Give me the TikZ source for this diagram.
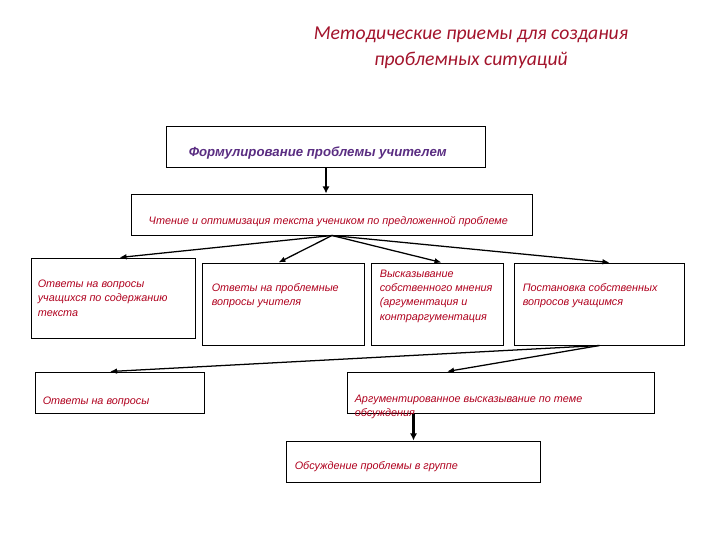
\documentclass[tikz,border=0pt]{standalone}
\usepackage{fontspec}
\setmainfont{Liberation Sans}
\newfontfamily\headfont{Carlito}
\usetikzlibrary{arrows.meta,positioning,calc}
\definecolor{tred}{HTML}{A3142C}
\definecolor{bred}{HTML}{B0001E}
\definecolor{bpurple}{HTML}{5A2D82}
\tikzset{
  >=Latex,
  box/.style={draw, line width=0.7pt, inner sep=0pt, fill=white},
  txt/.style={anchor=west, inner sep=0pt, align=left, text=bred,
    font=\itshape\fontsize{7.7}{10.2}\selectfont},
  arr/.style={-{Latex[length=5pt,width=4pt]}, line width=0.9pt},
  thickarr/.style={-{Latex[length=5pt,width=5pt]}, line width=1.8pt}
}

\begin{document}
\begin{tikzpicture}[x=0.025cm, y=-0.025cm]
  \fill[white] (0,0) rectangle (720,540);
  \useasboundingbox (0,0) rectangle (720,540);

  % title
  \node[align=center, text=tred, font=\headfont\itshape\fontsize{14}{18.5}\selectfont] (title) at (471,48)
    {Методические приемы для создания\\проблемных ситуаций};

  % boxes
  \node[box, minimum width=7.95cm, minimum height=1.025cm] (b1) at (326,146.5) {};
  \node[box, minimum width=10cm, minimum height=1.025cm] (b2) at (332,214.5) {};
  \node[box, minimum width=4.075cm, minimum height=2cm] (b3) at (113.5,298) {};
  \node[box, minimum width=4.025cm, minimum height=2.05cm] (b4) at (283.5,304) {};
  \node[box, minimum width=3.275cm, minimum height=2.05cm] (b5) at (437.5,304) {};
  \node[box, minimum width=4.225cm, minimum height=2.05cm] (b6) at (599.5,304) {};
  \node[box, minimum width=4.2cm, minimum height=1.025cm] (b7) at (120,392.5) {};
  \node[box, minimum width=7.65cm, minimum height=1.025cm] (b8) at (501,392.5) {};
  \node[box, minimum width=6.325cm, minimum height=1.025cm] (b9) at (413.5,461.5) {};

  % texts
  \node[txt, text=bpurple, font=\bfseries\itshape\fontsize{9.4}{11}\selectfont] (t1) at ($(b1.west)+(22,7)$)
    {Формулирование проблемы учителем};
  \node[txt] (t2) at ($(b2.west)+(17,7.5)$) {Чтение и оптимизация текста учеником по предложенной проблеме};
  \node[txt] (t3) at ($(b3.west)+(6,0)$) {Ответы на вопросы\\учащихся по содержанию\\текста};
  \node[txt] (t4) at ($(b4.west)+(9,-8.5)$) {Ответы на проблемные\\вопросы учителя};
  \node[txt] (t5) at ($(b5.west)+(8,-8)$) {Высказывание\\собственного мнения\\(аргументация и\\контраргументация};
  \node[txt] (t6) at ($(b6.west)+(8,-8.5)$) {Постановка собственных\\вопросов учащимся};
  \node[txt] (t7) at ($(b7.west)+(7,9.5)$) {Ответы на вопросы};
  \node[txt] (t8) at ($(b8.west)+(7,14.5)$) {Аргументированное высказывание по теме\\обсуждения};
  \node[txt] (t9) at ($(b9.west)+(8,5.5)$) {Обсуждение проблемы в группе};

  % connectors
  \draw[thickarr] (b1.south) -- (b1.south |- b2.north);
  \foreach \nd/\dx in {b3/6, b4/-5, b5/4, b6/10}
    \draw[arr] (b2.south) -- ($(\nd.north)+(\dx,0)$);
  \foreach \nd/\dx in {b7/-10, b8/-54}
    \draw[arr] (b6.south) -- ($(\nd.north)+(\dx,0)$);
  \draw[thickarr] (b9.north |- b8.south) -- (b9.north);
\end{tikzpicture}
\end{document}
